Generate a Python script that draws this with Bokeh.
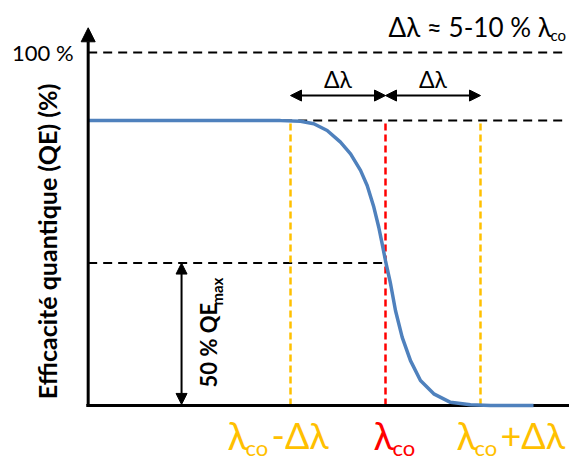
import numpy as np
from bokeh.plotting import figure
from bokeh.models import Arrow, NormalHead, Range1d
from bokeh.core.properties import value
from bokeh.embed import file_html
from bokeh.resources import INLINE

# ---- data ----
wavelength = [68.7, 88.95, 91.05, 92.45, 93.86, 95.26, 96.32, 97.37, 98.07, 98.77,
              99.29, 99.65, 100.0, 100.53, 101.05, 101.76, 102.63, 103.68, 105.08,
              106.84, 108.95, 111.05, 115.58]
qe = [80.7, 80.7, 80.5, 79.8, 77.9, 74.6, 71.3, 66.6, 62.3, 56.2,
      50.5, 45.8, 41.0, 34.5, 26.9, 19.3, 12.7, 7.1, 3.3,
      0.9, 0.2, 0.0, 0.0]
lambda_co = 100.0
delta = 10.0
qe_max = 80.7
qe_full = 100.0
x_axis_start = 68.7
x_right = 118.8

ORANGE = "#FFC000"
RED = "#FF0000"
BLUE = "#4F81BD"
FONT = value("Lato")

p = figure(width=569, height=462, output_backend="svg", toolbar_location=None,
           x_range=Range1d(59.47, 119.37), y_range=Range1d(-16.15, 114.73),
           x_axis_location=None, y_axis_location=None, min_border=0,
           outline_line_color=None)
p.grid.visible = False

# horizontal dashed guides
p.segment(x0=[x_axis_start, x_axis_start, x_axis_start],
          y0=[qe_full, qe_max, qe_max / 2],
          x1=[x_right, x_right, lambda_co],
          y1=[qe_full, qe_max, qe_max / 2],
          line_color="black", line_width=2, line_dash="9 6")

# vertical dashed guides
p.segment(x0=[lambda_co - delta, lambda_co, lambda_co + delta], y0=[0, 0, 0],
          x1=[lambda_co - delta, lambda_co, lambda_co + delta], y1=[qe_max] * 3,
          line_color=[ORANGE, RED, ORANGE], line_width=2.5, line_dash="7 4")

# axes
p.segment(x0=[x_axis_start - 0.2], y0=[0], x1=[119.37], y1=[0],
          line_color="black", line_width=3)
p.add_layout(Arrow(end=NormalHead(size=14, fill_color="black", line_color="black"),
                   x_start=x_axis_start, y_start=0, x_end=x_axis_start, y_end=107,
                   line_width=3, line_color="black"))

# curve
p.line(wavelength, qe, line_color=BLUE, line_width=3.5, line_join="round")

# delta arrows
for xs, xe in [(lambda_co - delta, lambda_co), (lambda_co, lambda_co + delta)]:
    p.add_layout(Arrow(start=NormalHead(size=11, fill_color="black", line_color="black"),
                       end=NormalHead(size=11, fill_color="black", line_color="black"),
                       x_start=xs, y_start=87.8, x_end=xe, y_end=87.8,
                       line_width=2, line_color="black"))
p.text(x=[lambda_co - delta / 2, lambda_co + delta / 2], y=[92.4, 92.4],
       text=["Δλ", "Δλ"], text_font=FONT, text_font_size="23px",
       text_align="center", text_baseline="middle", text_color="black")

# 50% arrow
x50 = 78.53
p.add_layout(Arrow(start=NormalHead(size=11, fill_color="black", line_color="black"),
                   end=NormalHead(size=11, fill_color="black", line_color="black"),
                   x_start=x50, y_start=0.3, x_end=x50, y_end=qe_max / 2,
                   line_width=2, line_color="black"))
p.text(x=[x50], y=[5.1], text=["50 % QE"], angle=np.pi / 2, x_offset=27,
       text_font=FONT, text_font_size="22px", text_font_style="bold",
       text_align="left", text_baseline="middle", text_color="black")
p.text(x=[x50], y=[28.3], text=["max"], angle=np.pi / 2, x_offset=35,
       text_font=FONT, text_font_size="15px", text_font_style="bold",
       text_align="left", text_baseline="middle", text_color="black")

# y labels
p.text(x=[67.16], y=[qe_full], text=["100 %"], text_font=FONT,
       text_font_size="22px", text_align="right", text_baseline="middle",
       text_color="black")
p.text(x=[64.32], y=[46.5], text=["Efficacité quantique (QE) (%)"], angle=np.pi / 2,
       text_font=FONT, text_font_size="25px", text_font_style="bold",
       text_align="center", text_baseline="middle", text_color="black")

# top right note
p.text(x=[100.32], y=[107.2], text=["Δλ ≈ 5-10 % λ"], text_font=FONT,
       text_font_size="26px", text_align="left", text_baseline="middle",
       text_color="black")
p.text(x=[116.63], y=[105.0], x_offset=7, text=["co"], text_font=FONT,
       text_font_size="15px", text_align="left", text_baseline="middle",
       text_color="black")

# bottom labels
yb = -8.5
ys = -11.8
def tick_label(xc, dx_l, dx_co, dx_rest, rest, color):
    p.text(x=[xc], y=[yb], x_offset=dx_l, text=["λ"], text_font=FONT,
           text_font_size="38px", text_align="left", text_baseline="middle",
           text_color=color)
    p.text(x=[xc], y=[ys], x_offset=dx_co, text=["co"], text_font=FONT,
           text_font_size="22px", text_align="left", text_baseline="middle",
           text_color=color)
    if rest:
        p.text(x=[xc], y=[yb], x_offset=dx_rest, text=[rest], text_font=FONT,
               text_font_size="36px", text_align="left", text_baseline="middle",
               text_color=color)

tick_label(lambda_co - delta, -63, -45, -19, "-Δλ", ORANGE)
tick_label(lambda_co, -12, 7, 0, "", RED)
tick_label(lambda_co + delta, -24, -6, 20, "+Δλ", ORANGE)

open("out.html", "w").write(file_html(p, INLINE))
